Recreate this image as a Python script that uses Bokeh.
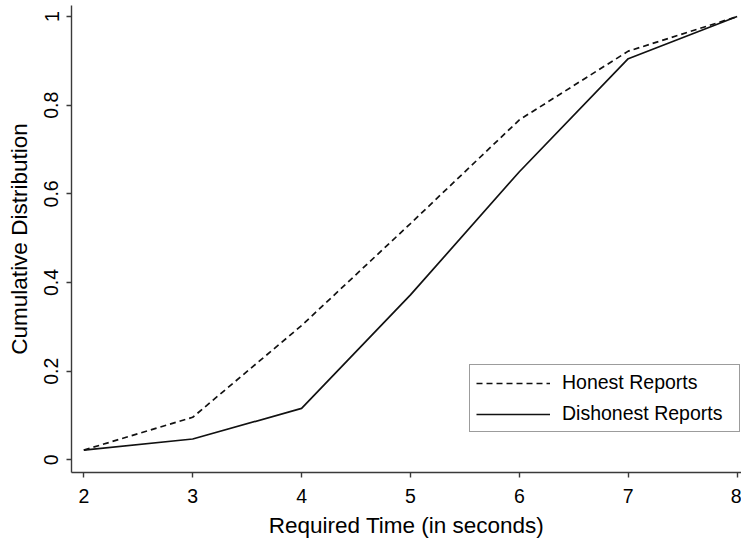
from bokeh.plotting import figure
from bokeh.models import Range1d, FixedTicker, Legend, LegendItem
from bokeh.embed import file_html
from bokeh.resources import INLINE

# Required time (seconds) and cumulative share of reports
seconds = [2, 3, 4, 5, 6, 7, 8]
honest_cdf = [0.022, 0.096, 0.303, 0.533, 0.767, 0.922, 1.0]
dishonest_cdf = [0.022, 0.047, 0.116, 0.372, 0.650, 0.905, 1.0]

y_ticks = [0, 0.2, 0.4, 0.6, 0.8, 1]
y_tick_labels = ["0", "0.2", "0.4", "0.6", "0.8", "1"]
x_ticks = [2, 3, 4, 5, 6, 7, 8]

FONT = "Liberation Sans"
AXIS_COLOR = "#3a3a3a"
LINE_COLOR = "#111111"

p = figure(
    width=741, height=544,
    x_range=Range1d(1.887, 8.04), y_range=Range1d(-0.0286, 1.025),
    output_backend="svg", toolbar_location=None,
    min_border_left=71, min_border_right=0, min_border_top=5, min_border_bottom=72,
)
p.outline_line_color = None
p.background_fill_color = "white"
p.border_fill_color = "white"
p.xgrid.visible = False
p.ygrid.visible = False

honest = p.line(seconds, honest_cdf, line_color=LINE_COLOR, line_width=1.7, line_dash="6 4")
dishonest = p.line(seconds, dishonest_cdf, line_color=LINE_COLOR, line_width=1.7)

for ax in (p.xaxis[0], p.yaxis[0]):
    ax.axis_line_color = AXIS_COLOR
    ax.axis_line_width = 1.4
    ax.major_tick_line_color = AXIS_COLOR
    ax.major_tick_line_width = 1.4
    ax.major_tick_out = 5
    ax.major_tick_in = 0
    ax.minor_tick_line_color = None
    ax.major_label_text_font = FONT
    ax.major_label_text_color = "black"
    ax.axis_label_text_font = FONT
    ax.axis_label_text_font_style = "normal"
    ax.axis_label_text_color = "black"

xa = p.xaxis[0]
xa.ticker = FixedTicker(ticks=x_ticks)
xa.major_label_text_font_size = "19.5px"
xa.major_label_standoff = 11
xa.axis_label = "Required Time (in seconds)"
xa.axis_label_text_font_size = "22.5px"
xa.axis_label_standoff = 7

ya = p.yaxis[0]
ya.ticker = FixedTicker(ticks=y_ticks)
ya.major_label_overrides = dict(zip(y_ticks, y_tick_labels))
ya.major_label_orientation = "parallel"
ya.major_label_text_font_size = "19.5px"
ya.major_label_standoff = 8
ya.axis_label = "Cumulative Distribution"
ya.axis_label_text_font_size = "22.5px"
ya.axis_label_standoff = 10

legend = Legend(
    items=[
        LegendItem(label="Honest Reports", renderers=[honest]),
        LegendItem(label="Dishonest Reports", renderers=[dishonest]),
    ],
    location=(398, 40),
    orientation="vertical",
    border_line_color=AXIS_COLOR,
    border_line_width=1.4,
    background_fill_color="white",
    background_fill_alpha=1.0,
    padding=6,
    spacing=8,
    margin=0,
    glyph_width=74,
    glyph_height=20,
    label_standoff=12,
    label_width=171,
    label_text_font=FONT,
    label_text_font_size="19.5px",
    label_text_color="black",
)
p.add_layout(legend, "center")

open("out.html", "w").write(file_html(p, INLINE))
